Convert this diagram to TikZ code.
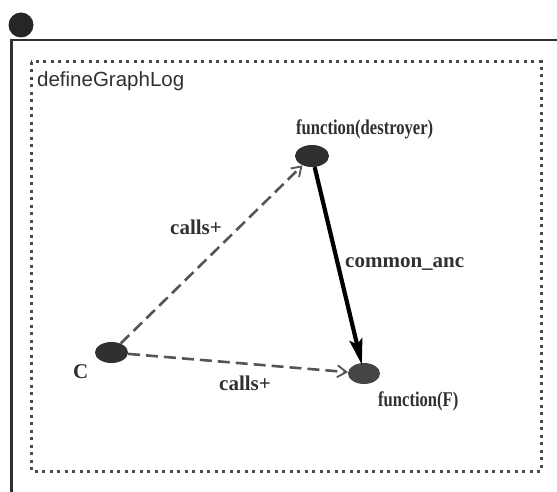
\documentclass[tikz,border=0pt]{standalone}
\usepackage{fontspec}
\setmainfont{Liberation Serif}
\setsansfont{Liberation Sans}
\newfontfamily\narrowserif[FakeStretch=0.79]{Liberation Serif}
\usetikzlibrary{shapes.geometric,arrows.meta}
\definecolor{ink}{HTML}{303030}
\definecolor{dotline}{HTML}{4a4a4a}
\definecolor{dashline}{HTML}{555555}
\tikzset{
  vertex/.style={ellipse, fill=ink, draw=none, minimum width=33pt, minimum height=21pt, inner sep=0pt},
  nodelabel/.style={anchor=base west, inner sep=0pt, text=ink, font=\narrowserif\fontsize{21}{21}\selectfont\bfseries},
  edgelabel/.style={anchor=base west, inner sep=0pt, text=ink, font=\fontsize{21}{21}\selectfont\bfseries},
  callsedge/.style={draw=dashline, line width=2.6pt, dash pattern=on 12pt off 6pt,
    -{Straight Barb[length=9pt,width=12pt,line width=1.8pt]}},
  ancedge/.style={draw=black, line width=4.2pt, -{Stealth[length=26pt,width=13pt,inset=5pt]}, shorten >=-2pt},
}
\begin{document}
\begin{tikzpicture}[x=1pt,y=-1pt]
  \useasboundingbox (0,0) rectangle (557,492);
  % outer frame with its corner marker
  \coordinate (frameEnd) at (557,40);
  \coordinate (frameBottom) at (11.5,492);
  \coordinate (frameCorner) at (11.5,40);
  \draw[line width=2.2pt, ink] (frameEnd) -- (frameCorner) -- (frameBottom);
  \node[circle, fill=black!85, inner sep=0pt, minimum size=25pt] (marker) at (21,25) {};
  % dotted group box
  \draw[dotline, line width=3pt, dash pattern=on 3pt off 4.5pt] (31,62) rectangle (541,471);
  \node[anchor=base west, inner sep=0pt, text=ink, font=\sffamily\fontsize{20.5}{20.5}\selectfont] (title) at (37,87) {defineGraphLog};
  % graph vertices
  \node[vertex, minimum width=34pt, minimum height=22pt] (d) at (312,156) {};
  \node[vertex] (c) at (111.5,352.5) {};
  \node[vertex, fill=ink!90, minimum width=32pt] (f) at (364,373.5) {};
  % vertex labels
  \node[nodelabel] (dlab) at (296,135) {function(destroyer)};
  \node[edgelabel] (clab) at (73,378) {C};
  \node[nodelabel] (flab) at (378,406) {function(F)};
  % edges
  \draw[callsedge] (c) -- (d);
  \draw[callsedge] (c) -- (f);
  \draw[ancedge] (d) -- (f);
  % edge labels
  \node[edgelabel] (e1) at (170,234) {calls+};
  \node[edgelabel] (e2) at (219,390) {calls+};
  \node[edgelabel] (e3) at (345,267) {common\_anc};
\end{tikzpicture}
\end{document}
